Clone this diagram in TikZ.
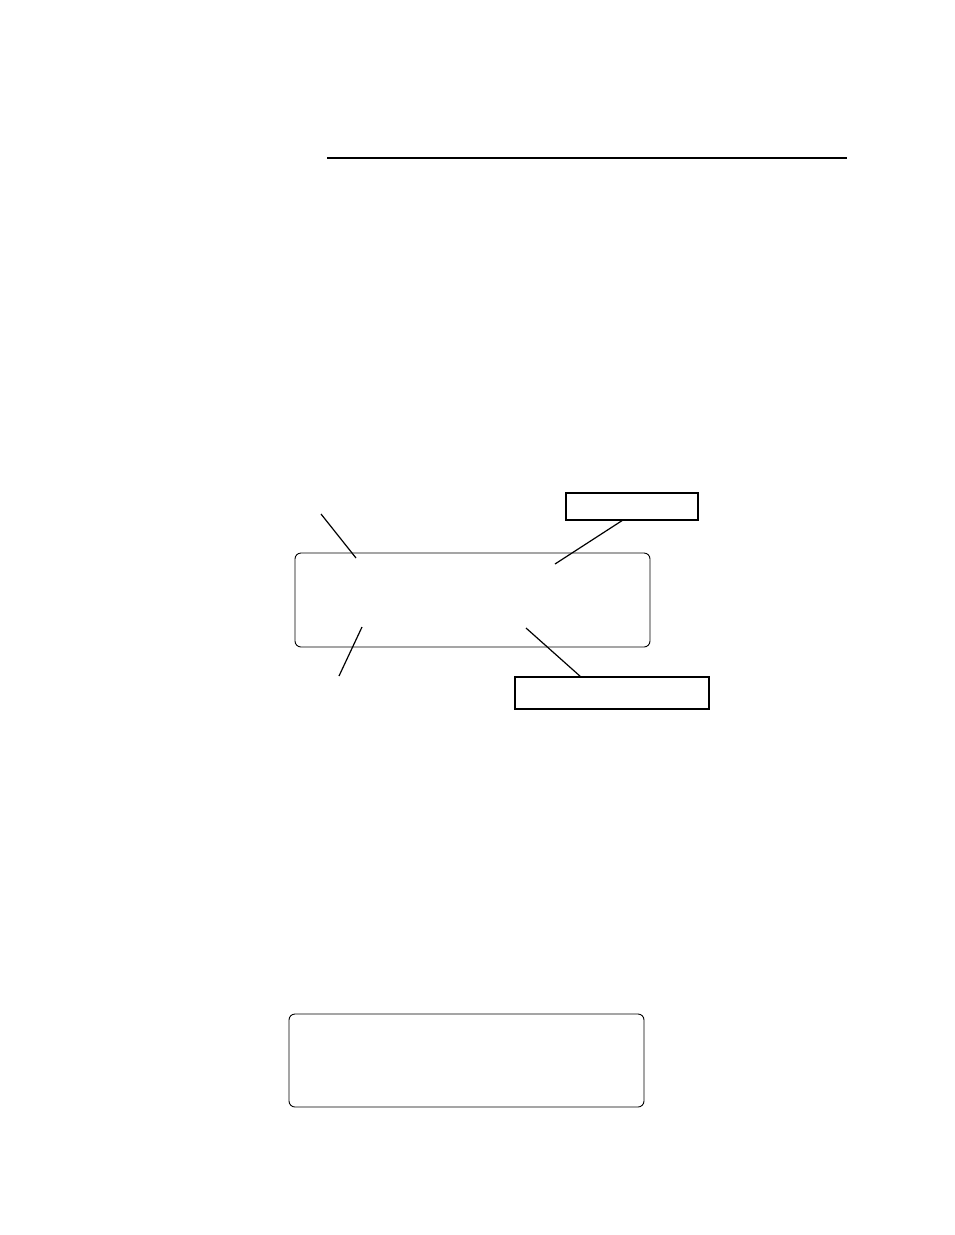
\documentclass[tikz,border=0pt]{standalone}
\usetikzlibrary{positioning}
\begin{document}
\begin{tikzpicture}[x=1pt,y=-1pt,inner sep=0pt,outer sep=0pt]
    \tikzstyle{panel}=[shape=rectangle,draw,rounded corners=6pt,line width=0.9pt]
    \tikzstyle{tag}=[shape=rectangle,draw,line width=1.6pt]
    \tikzstyle{leader}=[draw,line width=1.2pt]

    \useasboundingbox (0,0) rectangle (954,1235);

    % top rule
    \draw[line width=1.5pt] (327,158) -- (847,158);

    \node[panel, minimum width=355pt, minimum height=94pt] (P1) at (472.5,600) {};
    \node[tag, minimum width=132pt, minimum height=27pt] (T1) at (632,506.5) {};
    \node[tag, minimum width=194pt, minimum height=32pt] (T2) at (612,693) {};
    \node[panel, minimum width=355pt, minimum height=93pt] (P2) at (466.5,1060.5) {};

    \coordinate (L1a) at (321,514);
    \coordinate (L1b) at (356,558);
    \coordinate (L2b) at (555,564);
    \coordinate (L3a) at (362,627);
    \coordinate (L3b) at (339,676);
    \coordinate (L4a) at (526,628);

    \path[leader]
    (L1a) edge (L1b)
    ([xshift=-9pt]T1.south) edge (L2b)
    (L3a) edge (L3b)
    (L4a) edge ([xshift=-31pt]T2.north)
    ;
\end{tikzpicture}
\end{document}
